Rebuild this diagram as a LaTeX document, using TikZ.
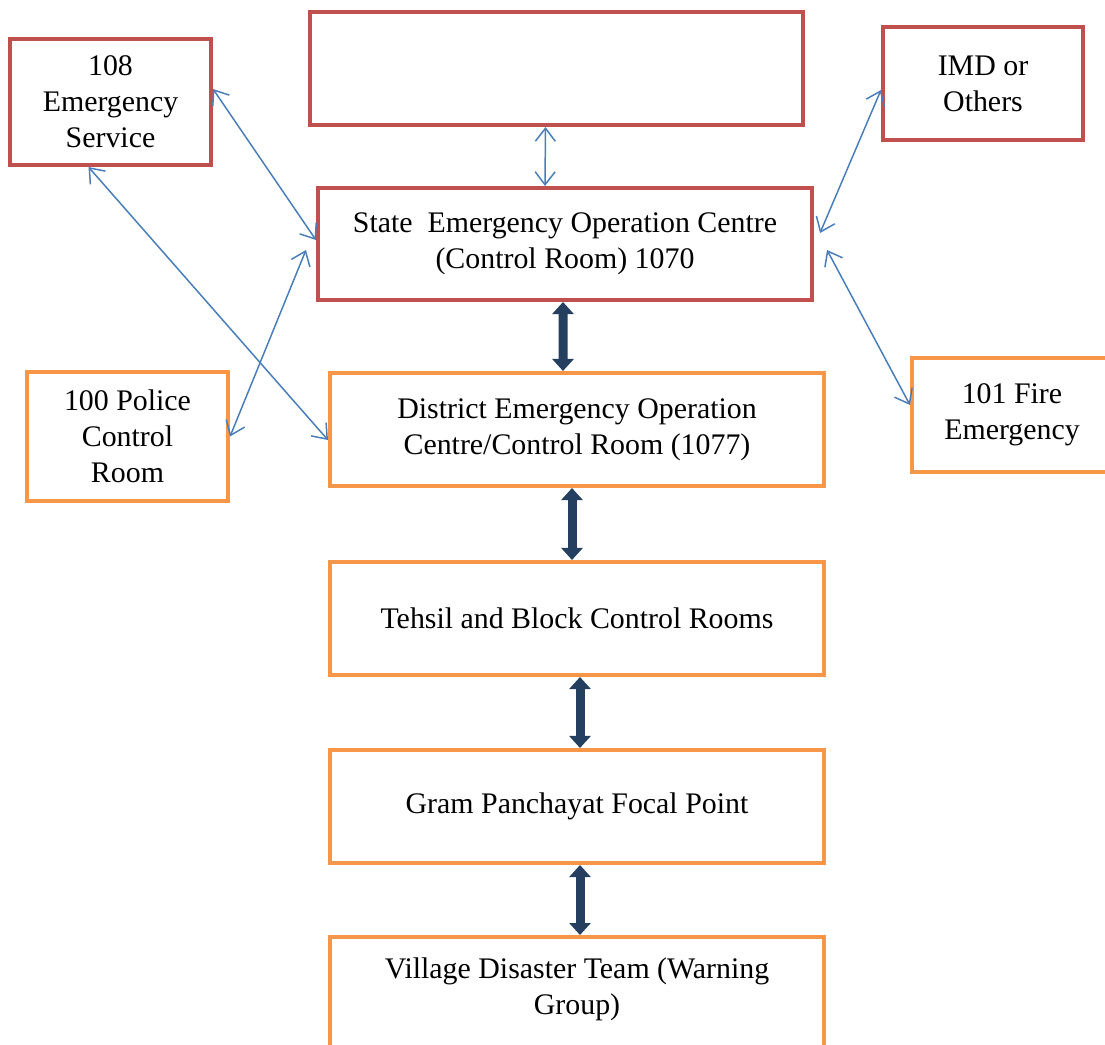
\documentclass[tikz,border=0pt]{standalone}
\usepackage{fontspec}
\setmainfont{Liberation Serif}
\usepackage{tikz}
\usetikzlibrary{arrows,arrows.meta,calc,positioning}
\definecolor{boxred}{HTML}{C0504D}
\definecolor{boxorange}{HTML}{F79646}
\definecolor{linkblue}{HTML}{4A7EBB}
\definecolor{flownavy}{HTML}{243F60}
\tikzset{%
	box/.style      = {draw, rectangle, line width=2.3pt, align=center, inner sep=0pt, font=\fontsize{17}{20.5}\selectfont}, % Box
	redbox/.style   = {box, draw=boxred, minimum width=4.02cm, minimum height=2.52cm}, % Outside agency
	statebox/.style = {box, draw=boxred, minimum width=9.88cm, minimum height=2.24cm}, % State level
	levelbox/.style = {box, draw=boxorange, minimum width=9.88cm, minimum height=2.26cm}, % Lower levels
	sidebox/.style  = {box, draw=boxorange, minimum width=4.0cm, minimum height=2.28cm}, % Side agency
	link/.style     = {draw=linkblue, line width=0.85pt, {Straight Barb[length=2.6mm,width=4mm]}-{Straight Barb[length=2.6mm,width=4mm]}}, % Thin link
	flow/.style     = {draw=flownavy, line width=1.8mm, {Triangle[length=2.4mm,width=4.2mm]}-{Triangle[length=2.4mm,width=4.2mm]}}, % Main chain
}
\begin{document}
\begin{tikzpicture}
	\path[use as bounding box] (0,0) rectangle (22.1,-20.9);
	\clip (0,0) rectangle (22.1,-20.9);
	% boxes
	\node[statebox, minimum width=9.86cm, minimum height=2.26cm] (top) at (11.13,-1.37) {};
	\node[redbox] (ems) at (2.21,-2.04) {108\\Emergency\\Service};
	\node[redbox, minimum width=4.0cm, minimum height=2.26cm] (imd) at (19.66,-1.67) {IMD or\\Others};
	\node[statebox] (seoc) at (11.3,-4.88) {State\ \ Emergency Operation Centre\\(Control Room) 1070};
	\node[levelbox] (deoc) at (11.54,-8.59) {District Emergency Operation\\Centre/Control Room (1077)};
	\node[sidebox, minimum width=4.02cm, minimum height=2.58cm] (police) at (2.55,-8.73) {100 Police\\Control\\Room};
	\node[sidebox] (fire) at (20.24,-8.3) {101 Fire\\Emergency};
	\node[levelbox] (tehsil) at (11.54,-12.37) {Tehsil and Block Control Rooms};
	\node[levelbox] (gram) at (11.54,-16.13) {Gram Panchayat Focal Point};
	\node[levelbox, minimum height=3.2cm, anchor=north,
		label={[font=\fontsize{17}{20.5}\selectfont, align=center, anchor=north, yshift=-0.33cm]north:Village Disaster Team (Warning\\Group)}]
		(village) at (11.54,-18.7) {};
	% main chain
	\draw[flow] ([xshift=-0.04cm]seoc.south) -- ([xshift=-0.28cm]deoc.north);
	\draw[flow] ([xshift=-0.1cm]deoc.south) -- ([xshift=-0.1cm]tehsil.north);
	\draw[flow] ([xshift=0.06cm]tehsil.south) -- ([xshift=0.06cm]gram.north);
	\draw[flow] ([xshift=0.06cm]gram.south) -- ([xshift=0.06cm]village.north);
	% thin links
	\draw[link] ([xshift=-0.22cm]top.south) -- ([xshift=-0.4cm]seoc.north);
	\draw[link] ([yshift=0.26cm]ems.east) -- ([yshift=0.08cm]seoc.west);
	\draw[link] ([xshift=-0.44cm]ems.south) -- ([yshift=-0.21cm]deoc.west);
	\draw[link] (police.east) -- ([xshift=-0.2cm,yshift=-0.12cm]seoc.west);
	\draw[link] ([yshift=-0.13cm]imd.west) -- ([xshift=0.12cm,yshift=0.22cm]seoc.east);
	\draw[link] ([xshift=0.26cm,yshift=-0.12cm]seoc.east) -- ([yshift=0.2cm]fire.west);
\end{tikzpicture}
\end{document}
